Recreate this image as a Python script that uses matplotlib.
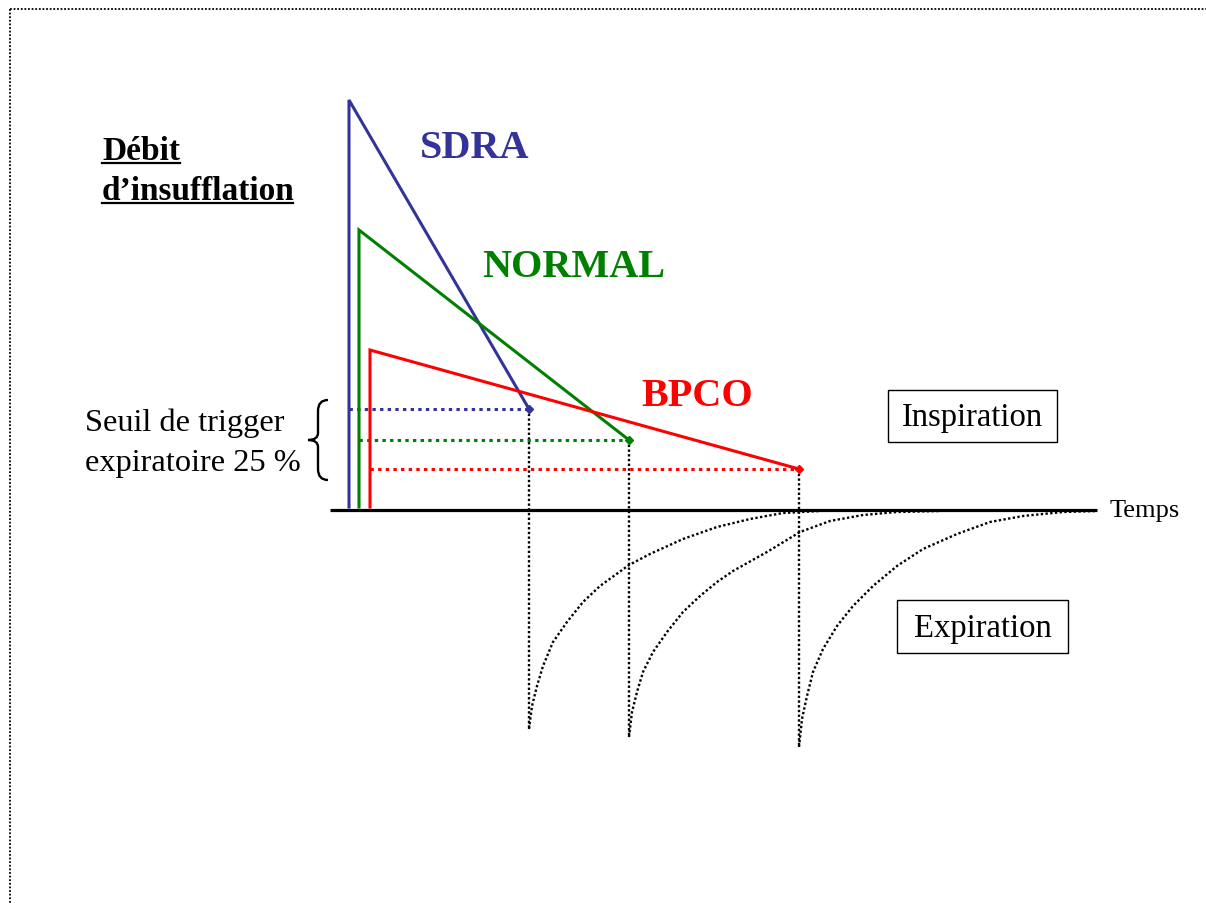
import matplotlib
matplotlib.use("Agg")
import matplotlib.pyplot as plt
from matplotlib.patches import Rectangle, PathPatch
from matplotlib.path import Path

plt.rcParams['font.family'] = ['Liberation Serif', 'DejaVu Serif']

# ---------------- data (time units, flow units; 0 = baseline) ----------------
series_names = ["SDRA", "NORMAL", "BPCO"]
series_colors = ["#333399", "#008000", "#FF0000"]
onset_time = [19, 29, 40]          # start of insufflation
peak_flow = [410, 280, 160]        # peak inspiratory flow
cycle_time = [199, 299, 469]       # time when the 25 % trigger is reached
trigger_flow = [101, 70, 41]       # 25 % expiratory trigger level
start_flow = [3, 3, 3]

# expiratory flow curves (time, flow)
exp_sdra_t = [199, 202, 207, 213, 223, 237, 253, 270, 299, 320, 353, 387, 420, 453, 490]
exp_sdra_f = [-219, -196, -176, -156, -132, -112, -92, -76, -55, -44, -29, -17, -9, -3, -1]
exp_normal_t = [299, 302, 307, 313, 323, 337, 353, 370, 387, 403, 437, 470, 500, 533, 567, 610]
exp_normal_f = [-227, -202, -182, -162, -142, -122, -102, -86, -72, -61, -42, -22, -11, -5, -2, -1]
exp_bpco_t = [469, 472, 477, 483, 493, 507, 523, 543, 567, 593, 627, 660, 693, 733, 767]
exp_bpco_f = [-237, -209, -186, -162, -139, -116, -96, -76, -56, -39, -24, -12, -6, -2, -1]
exp_t = [exp_sdra_t, exp_normal_t, exp_bpco_t]
exp_f = [exp_sdra_f, exp_normal_f, exp_bpco_f]

time_axis = [0, 767]
axis_label = "Temps"
y_title = ["Débit", "d\u2019insufflation"]
trigger_lines = ["Seuil de trigger", "expiratoire 25 %"]
phase_labels = ["Inspiration", "Expiration"]

# ---------------- figure ----------------
W, H = 1206, 904
X0, Y0 = 330, 511   # pixel of the origin
fig = plt.figure(figsize=(W / 100, H / 100), dpi=100)
ax = fig.add_axes([0, 0, 1, 1])
ax.set_xlim(-X0, W - X0)
ax.set_ylim(Y0 - H, Y0)
ax.axis("off")

def px(x, y):
    """pixel position -> data coords (for layout of annotations)"""
    return x - X0, Y0 - y

# page border (top and left dotted)
bx, by = px(10, 9.5)
ex, ey = px(W, H)
ax.plot([bx, ex], [by, by], color="black", lw=1.3, ls=(0, (1, 1)), clip_on=False)
ax.plot([bx, bx], [by, ey], color="black", lw=1.3, ls=(0, (1, 1)), clip_on=False)

# time axis
ax.plot(time_axis, [0, 0], color="black", lw=2.3, solid_capstyle="butt", zorder=4)

for i in range(3):
    c = series_colors[i]
    # inspiratory flow
    ax.plot([onset_time[i], onset_time[i], cycle_time[i]],
            [start_flow[i], peak_flow[i], trigger_flow[i]],
            color=c, lw=2.2, solid_joinstyle="miter", zorder=3)
    ax.plot([cycle_time[i]], [trigger_flow[i]], marker="D", ms=4, color=c, zorder=5)
    # trigger level
    ax.plot([onset_time[i], cycle_time[i]], [trigger_flow[i], trigger_flow[i]],
            color=c, lw=2.2, ls=(0, (1.1, 1.4)), zorder=3)
    # expiration
    ax.plot([cycle_time[i], cycle_time[i]], [trigger_flow[i], exp_f[i][0]],
            color="black", lw=1.7, ls=(0, (1, 1)), zorder=2)
    ax.plot(exp_t[i], exp_f[i], color="black", lw=1.7, ls=(0, (1, 1)), zorder=2)

# series labels
label_pos = [(420, 158), (482, 277), (641, 406)]
for name, c, (lx, ly) in zip(series_names, series_colors, label_pos):
    ax.text(*px(lx, ly), name, color=c, fontsize=29, fontweight="bold",
            ha="left", va="baseline")

# y title (bold, underlined)
ax.text(*px(102, 160), y_title[0], fontsize=24, fontweight="bold", ha="left", va="baseline")
ax.text(*px(102, 200), y_title[1], fontsize=24, fontweight="bold", ha="left", va="baseline")
ax.plot(*zip(px(102, 164), px(180, 164)), color="black", lw=1.6)
ax.plot(*zip(px(102, 204), px(293, 204)), color="black", lw=1.6)

# trigger text
ax.text(*px(85, 431), trigger_lines[0], fontsize=23.3, ha="left", va="baseline")
ax.text(*px(85, 471), trigger_lines[1], fontsize=23.3, ha="left", va="baseline")

# brace
verts = [px(328, 401), px(318, 401), px(318, 412),
         px(318, 434), px(318, 441), px(308, 441),
         px(318, 441), px(318, 448), px(318, 470),
         px(318, 481), px(328, 481)]
codes = [Path.MOVETO, Path.CURVE3, Path.CURVE3,
         Path.LINETO, Path.CURVE3, Path.CURVE3,
         Path.CURVE3, Path.CURVE3, Path.LINETO,
         Path.CURVE3, Path.CURVE3]
ax.add_patch(PathPatch(Path(verts, codes), fill=False, lw=1.7, color="black"))

# phase boxes
boxes = [(888, 391, 1057, 443), (897, 601, 1068, 654)]
for lab, (x1, y1, x2, y2) in zip(phase_labels, boxes):
    a, b = px(x1, y2)
    ax.add_patch(Rectangle((a, b), x2 - x1, y2 - y1, fill=False, lw=1.0,
                           edgecolor="black"))
    ax.text(*px((x1 + x2) / 2, (y1 + y2) / 2 + 1), lab, fontsize=23.5,
            ha="center", va="center")

ax.text(*px(1110, 511), axis_label, fontsize=19, ha="left", va="center")

fig.savefig("out.png", dpi=100)
